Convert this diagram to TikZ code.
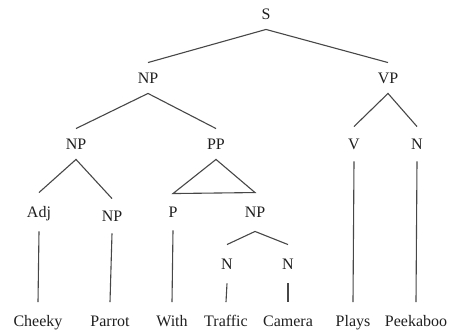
\documentclass[tikz,border=0pt]{standalone}
\usepackage{fontspec}
\setmainfont{Liberation Serif}
\begin{document}
\begin{tikzpicture}[x=1pt,y=-1pt,
  lbl/.style={font=\fontsize{16}{19}\selectfont, text=black!88, text height=10.5pt, text depth=0pt, inner xsep=0pt, inner ysep=10pt},
  leaf/.style={lbl, inner ysep=13.5pt},
  edge/.style={draw=black!72, line width=1.1pt}]
\useasboundingbox (0,0) rectangle (453,331);
\node[lbl] (S) at (266,14) {S};
\node[lbl] (NPa) at (148,78) {NP};
\node[lbl] (VP) at (388,78) {VP};
\node[lbl] (NPb) at (76,144) {NP};
\node[lbl] (PP) at (216,144) {PP};
\node[lbl, inner ysep=12pt] (V) at (354,144) {V};
\node[lbl, inner ysep=12pt] (Na) at (417,144) {N};
\node[lbl, inner ysep=14pt] (Adj) at (39,212) {Adj};
\node[lbl, inner ysep=12pt] (NPc) at (112,216) {NP};
\node[lbl, inner ysep=13pt] (P) at (173,212) {P};
\node[lbl, inner ysep=14pt] (NPd) at (255,212) {NP};
\node[lbl, inner ysep=14pt] (Nb) at (227,264) {N};
\node[lbl, inner ysep=14pt] (Nc) at (288,264) {N};
\node[leaf] (w1) at (38,321) {Cheeky};
\node[leaf] (w2) at (110,321) {Parrot};
\node[leaf] (w3) at (172,321) {With};
\node[leaf] (w4) at (226,321) {Traffic};
\node[leaf] (w5) at (288,321) {Camera};
\node[leaf] (w6) at (353,321) {Plays};
\node[leaf] (w7) at (416,321) {Peekaboo};
\draw[edge] (NPa.north) -- (S.south) -- (VP.north);
\draw[edge] (NPb.north) -- (NPa.south) -- (PP.north);
\draw[edge] (V.north) -- (VP.south) -- (Na.north);
\draw[edge] (Adj.north) -- (NPb.south) -- (NPc.north);
\draw[edge] (PP.south) -- (P.north) -- (NPd.north) -- cycle;
\draw[edge] (Nb.north) -- (NPd.south) -- (Nc.north);
\draw[edge] (Adj.south) -- (w1.north);
\draw[edge] (NPc.south) -- (w2.north);
\draw[edge] (P.south) -- (w3.north);
\draw[edge] (Nb.south) -- (w4.north);
\draw[edge] (Nc.south) -- (w5.north);
\draw[edge] (V.south) -- (w6.north);
\draw[edge] (Na.south) -- (w7.north);
\end{tikzpicture}
\end{document}
